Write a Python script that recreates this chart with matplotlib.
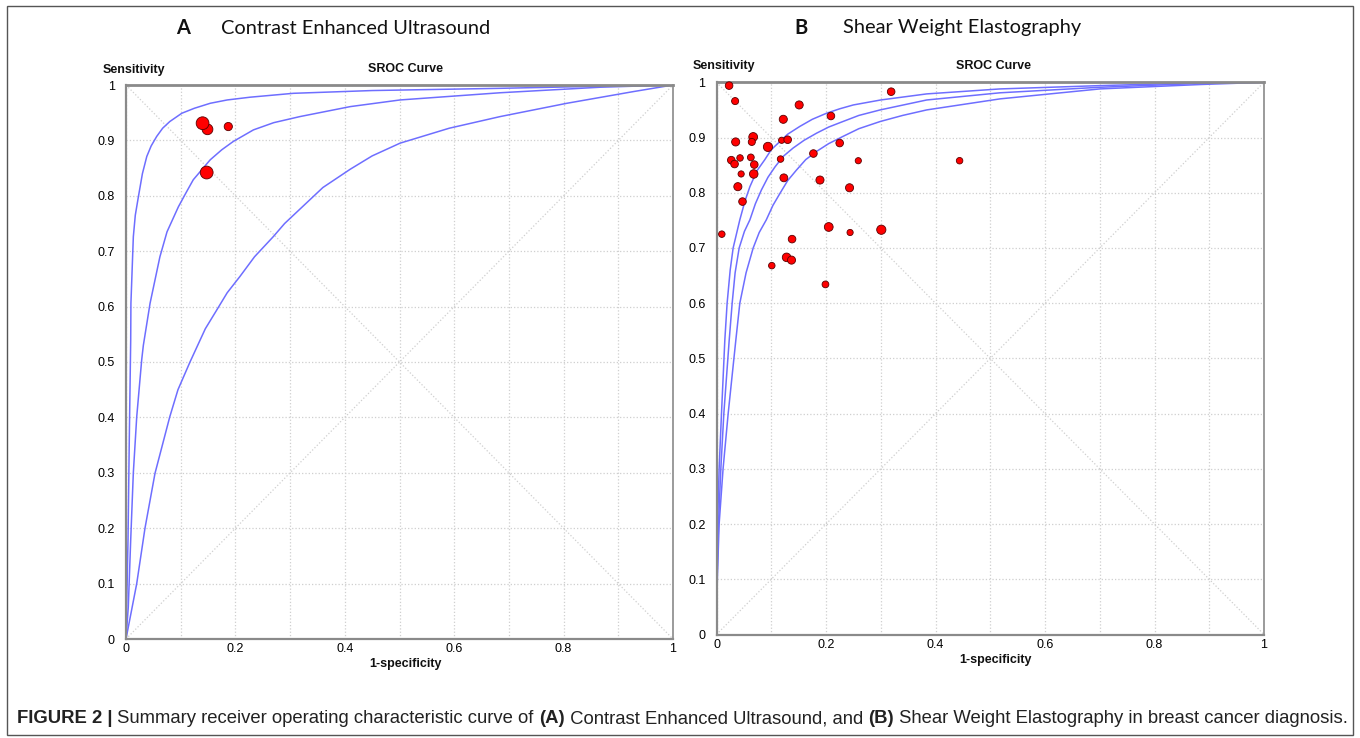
import numpy as np
import matplotlib
matplotlib.use("Agg")
import matplotlib.pyplot as plt
from matplotlib.patches import Rectangle

W, H = 1360, 738

# ---- panel A: Contrast Enhanced Ultrasound ----
a_fpr = [0.149, 0.140, 0.187, 0.1475]
a_sens = [0.920, 0.931, 0.925, 0.842]
a_size = [60, 85, 35, 85]

# SROC curves (1-specificity, sensitivity)
a_c1_x = [0, 0.0037, 0.006, 0.0086, 0.009, 0.0134, 0.017, 0.0226, 0.030, 0.038, 0.046,
          0.056, 0.067, 0.080, 0.102, 0.125, 0.154, 0.185, 0.227, 0.306, 0.45, 0.684,
          0.927, 1]
a_c1_y = [0, 0.18, 0.36, 0.54, 0.606, 0.726, 0.765, 0.798, 0.840, 0.871, 0.890,
          0.907, 0.922, 0.934, 0.949, 0.958, 0.967, 0.973, 0.978, 0.985, 0.990, 0.994,
          0.999, 1]
a_c2_x = [0, 0.0042, 0.0086, 0.0134, 0.0196, 0.0287, 0.0317, 0.044, 0.062, 0.075, 0.0957,
          0.110, 0.123, 0.154, 0.175, 0.196, 0.233, 0.270, 0.318, 0.410, 0.501, 0.684,
          0.867, 1]
a_c2_y = [0, 0.058, 0.179, 0.30, 0.401, 0.504, 0.53, 0.606, 0.690, 0.735, 0.780,
          0.806, 0.829, 0.865, 0.883, 0.898, 0.919, 0.932, 0.943, 0.961, 0.973, 0.986,
          0.996, 1]
a_c3_x = [0, 0.0196, 0.0347, 0.053, 0.080, 0.095, 0.117, 0.131, 0.145, 0.166, 0.185,
          0.208, 0.235, 0.269, 0.290, 0.318, 0.360, 0.410, 0.450, 0.501, 0.591, 0.684,
          0.806, 0.927, 1]
a_c3_y = [0, 0.10, 0.20, 0.299, 0.401, 0.450, 0.50, 0.53, 0.560, 0.594, 0.625,
          0.654, 0.690, 0.726, 0.750, 0.776, 0.815, 0.848, 0.872, 0.895, 0.922, 0.943,
          0.967, 0.988, 1]

# ---- panel B: Shear Weight Elastography ----
b_fpr = [0.023, 0.034, 0.151, 0.319, 0.122, 0.209, 0.035, 0.067, 0.0645, 0.094,
         0.119, 0.130, 0.027, 0.033, 0.043, 0.0627, 0.069, 0.045, 0.068, 0.039,
         0.0475, 0.117, 0.123, 0.177, 0.225, 0.259, 0.444, 0.189, 0.243, 0.0097,
         0.205, 0.244, 0.301, 0.138, 0.128, 0.137, 0.101, 0.199]
b_sens = [0.994, 0.966, 0.959, 0.983, 0.933, 0.939, 0.892, 0.901, 0.892, 0.883,
          0.895, 0.896, 0.859, 0.852, 0.863, 0.864, 0.851, 0.834, 0.834, 0.811,
          0.784, 0.861, 0.827, 0.871, 0.890, 0.858, 0.858, 0.823, 0.809, 0.725,
          0.738, 0.728, 0.733, 0.716, 0.683, 0.678, 0.668, 0.634]
b_size = [30, 26, 34, 30, 34, 30, 34, 40, 26, 44,
          20, 30, 30, 30, 22, 24, 30, 20, 38, 34,
          30, 22, 32, 30, 30, 20, 22, 34, 34, 22,
          40, 20, 44, 30, 38, 34, 22, 24]

b_c1_x = [0, 0.0005, 0.002, 0.0048, 0.0091, 0.0152, 0.0194, 0.025, 0.0304, 0.0426,
          0.052, 0.061, 0.074, 0.0883, 0.100, 0.116, 0.130, 0.152, 0.175, 0.201,
          0.225, 0.250, 0.30, 0.384, 0.518, 0.70, 0.884, 1]
b_c1_y = [0, 0.10, 0.20, 0.30, 0.40, 0.533, 0.60, 0.66, 0.70, 0.751,
          0.785, 0.811, 0.840, 0.860, 0.878, 0.893, 0.906, 0.920, 0.933, 0.944,
          0.952, 0.959, 0.968, 0.979, 0.988, 0.994, 0.999, 1]
b_c2_x = [0, 0.001, 0.0037, 0.0079, 0.0134, 0.0232, 0.0286, 0.034, 0.0414, 0.051,
          0.061, 0.071, 0.082, 0.094, 0.107, 0.122, 0.140, 0.160, 0.183, 0.205,
          0.231, 0.260, 0.299, 0.384, 0.518, 0.70, 0.884, 1]
b_c2_y = [0, 0.10, 0.20, 0.30, 0.40, 0.533, 0.60, 0.655, 0.70, 0.730,
          0.751, 0.780, 0.805, 0.828, 0.847, 0.866, 0.881, 0.895, 0.908, 0.919,
          0.929, 0.940, 0.950, 0.968, 0.981, 0.991, 0.998, 1]
b_c3_x = [0, 0.0015, 0.0048, 0.012, 0.0213, 0.0353, 0.0426, 0.054, 0.067, 0.078,
          0.091, 0.103, 0.116, 0.130, 0.146, 0.163, 0.183, 0.205, 0.231, 0.260,
          0.299, 0.340, 0.384, 0.518, 0.70, 0.884, 1]
b_c3_y = [0, 0.10, 0.20, 0.30, 0.40, 0.533, 0.60, 0.655, 0.70, 0.728,
          0.751, 0.777, 0.799, 0.822, 0.841, 0.860, 0.875, 0.889, 0.902, 0.916,
          0.929, 0.940, 0.950, 0.970, 0.988, 0.996, 1]

x_ticks = [0, 0.2, 0.4, 0.6, 0.8, 1]
x_labels = ['0', '0.2', '0.4', '0.6', '0.8', '1']
y_ticks = [0, 0.1, 0.2, 0.3, 0.4, 0.5, 0.6, 0.7, 0.8, 0.9, 1]
y_labels = ['0', '0.1', '0.2', '0.3', '0.4', '0.5', '0.6', '0.7', '0.8', '0.9', '1']

AX_FONT = 'Liberation Sans'
CURVE = '#6e6eff'
GRID = '#cfcfcf'


def fx(x):
    return x / W


def fy(y):
    return 1 - y / H


def style(ax):
    ax.set_xlim(0, 1)
    ax.set_ylim(0, 1)
    ax.set_xticks(x_ticks)
    ax.set_xticklabels(x_labels, fontfamily=AX_FONT, fontsize=9)
    ax.set_xticks(np.arange(0.1, 1.0, 0.2), minor=True)
    ax.set_yticks(y_ticks)
    ax.set_yticklabels(y_labels, fontfamily=AX_FONT, fontsize=9)
    ax.grid(which='both', color=GRID, linestyle=':', linewidth=0.9)
    ax.tick_params(which='both', length=0)
    ax.tick_params(axis='y', pad=8)
    ax.tick_params(axis='x', pad=3)
    ax.plot([0, 1], [1, 0], color=GRID, ls=':', lw=0.9, zorder=1)
    ax.plot([0, 1], [0, 1], color=GRID, ls=':', lw=0.9, zorder=1)
    for s in ax.spines.values():
        s.set_color('#8a8a8a')
        s.set_linewidth(1.2)
    ax.spines['top'].set_linewidth(2)
    ax.spines['left'].set_linewidth(1.6)
    ax.spines['bottom'].set_linewidth(1.6)


fig = plt.figure(figsize=(13.6, 7.38), dpi=100)

# panel A
ax_a = fig.add_axes([fx(126), fy(639), 547 / W, 554 / H])
style(ax_a)
for cx, cy in [(a_c1_x, a_c1_y), (a_c2_x, a_c2_y), (a_c3_x, a_c3_y)]:
    ax_a.plot(cx, cy, color=CURVE, lw=1.1, zorder=2)
ax_a.scatter(a_fpr, a_sens, s=a_size, c='#ff0000', edgecolors='#5a0000',
             linewidths=0.6, zorder=3, clip_on=False)

# panel B
ax_b = fig.add_axes([fx(716.5), fy(634.5), 547.5 / W, 552.2 / H])
style(ax_b)
for cx, cy in [(b_c1_x, b_c1_y), (b_c2_x, b_c2_y), (b_c3_x, b_c3_y)]:
    ax_b.plot(cx, cy, color=CURVE, lw=1.1, zorder=2)
ax_b.scatter(b_fpr, b_sens, s=b_size, c='#ff0000', edgecolors='#5a0000',
             linewidths=0.6, zorder=3, clip_on=False)

# axis texts
lab = dict(fontfamily=AX_FONT, fontsize=9, fontweight='bold', color='#111111', va='center')
fig.text(fx(103), fy(70), 'Sensitivity', ha='left', **lab)
fig.text(fx(405), fy(69), 'SROC Curve', ha='center', **lab)
fig.text(fx(405), fy(664), '1-specificity', ha='center', **lab)
fig.text(fx(693), fy(66), 'Sensitivity', ha='left', **lab)
fig.text(fx(994), fy(66), 'SROC Curve', ha='center', **lab)
fig.text(fx(996), fy(660), '1-specificity', ha='center', **lab)

# panel titles
tt = dict(fontfamily='Lato', fontsize=14.4, color='#111111', va='center')
fig.text(fx(183), fy(28), 'A', ha='center', fontweight='bold', **tt)
fig.text(fx(221), fy(28), 'Contrast Enhanced Ultrasound', ha='left', **tt)
fig.text(fx(801), fy(28), 'B', ha='center', fontweight='bold', **tt)
fig.text(fx(843), fy(28), 'Shear Weight Elastography', ha='left', **tt)

# caption, built piece by piece on a shared baseline
pieces = [('FIGURE 2 |', 'bold'),
          (' Summary receiver operating characteristic curve of ', 'normal'),
          ('(A)', 'bold'),
          (' Contrast Enhanced Ultrasound, and ', 'normal'),
          ('(B)', 'bold'),
          (' Shear Weight Elastography in breast cancer diagnosis.', 'normal')]
renderer = fig.canvas.get_renderer()
xpos = 17
for txt, wt in pieces:
    t = fig.text(fx(xpos), fy(723), txt, fontfamily=AX_FONT, fontsize=13.35,
                 fontweight=wt, color='#222222', ha='left', va='baseline')
    bb = t.get_window_extent(renderer=renderer)
    xpos += bb.width

# outer frame
fig.patches.append(Rectangle((fx(7), fy(735)), (1353 - 7) / W, (735 - 6) / H,
                             transform=fig.transFigure, fill=False,
                             edgecolor='#555555', linewidth=1))

fig.savefig('out.png', dpi=100)
